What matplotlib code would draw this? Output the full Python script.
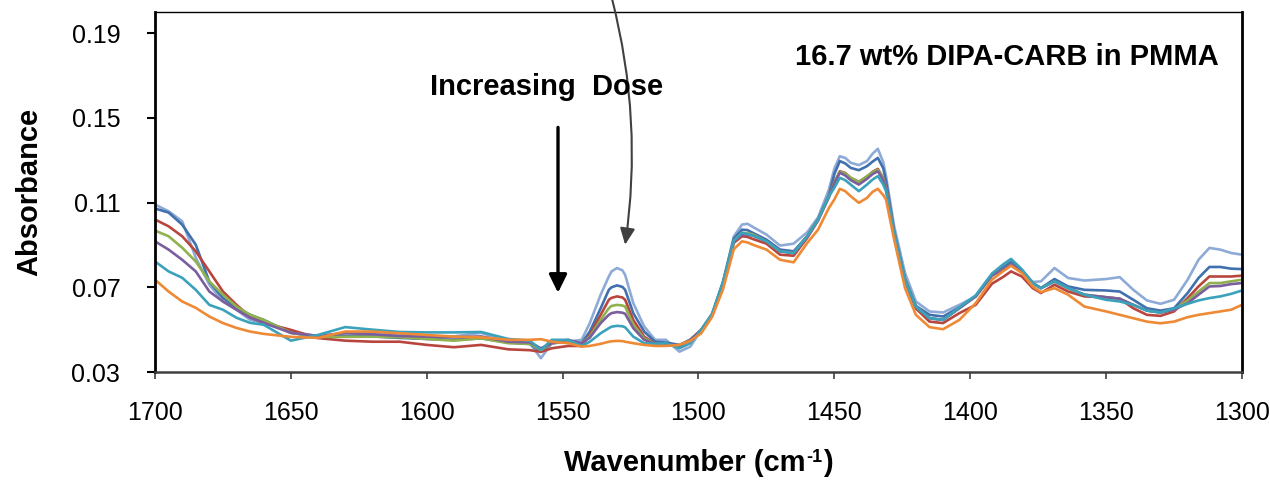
import matplotlib
matplotlib.use("Agg")
import matplotlib.pyplot as plt

plt.rcParams['font.family'] = ['Liberation Sans', 'DejaVu Sans']

wavenumber = [1700, 1695, 1690, 1685, 1680, 1675, 1670, 1665, 1660,
              1650, 1640, 1630, 1620, 1610, 1600, 1590, 1580, 1570,
              1562, 1558, 1554, 1548, 1543, 1540, 1536, 1533, 1532, 1530, 1528, 1527,
              1524, 1520, 1516, 1512, 1507, 1503, 1499, 1495, 1491, 1487,
              1484, 1482, 1480, 1475, 1470, 1465, 1460, 1456, 1452, 1450, 1448, 1446, 1444,
              1441, 1438, 1436, 1434, 1432, 1431, 1428, 1424, 1420, 1415, 1410, 1404,
              1398, 1392, 1388, 1385, 1381, 1377, 1374, 1369, 1364, 1358,
              1350, 1345, 1340, 1335, 1330, 1325, 1320, 1316, 1312, 1308,
              1304, 1300]

dose_light_blue = [.1091, .1059, .1012, .0840, .0712, .0633, .0594, .0546, .0532,
                   .0489, .0470, .0485, .0485, .0475, .0470, .0468, .0485, .0443,
                   .0435, .0365, .0436, .0443, .0452, .0531, .0665, .0751, .0775, .0791, .0780, .0759,
                   .0625, .0515, .0452, .0452, .0396, .0420, .0499, .0575, .0725, .0940,
                   .0996, .1000, .0985, .0949, .0897, .0906, .0960, .1030, .1162, .1260, .1319, .1311, .1288,
                   .1277, .1296, .1330, .1354, .1290, .1225, .0988, .0767, .0633, .0586, .0581, .0617,
                   .0657, .0756, .0800, .0827, .0779, .0725, .0728, .0791, .0744, .0732,
                   .0739, .0748, .0688, .0638, .0622, .0641, .0736, .0830, .0886, .0878,
                   .0862, .0854]

dose_blue = [.1072, .1053, .0996, .0901, .0726, .0650, .0603, .0570, .0546,
             .0485, .0466, .0470, .0468, .0461, .0456, .0452, .0459, .0439,
             .0432, .0396, .0436, .0443, .0436, .0491, .0601, .0688, .0700, .0709, .0702, .0688,
             .0578, .0491, .0443, .0439, .0428, .0452, .0499, .0570, .0722, .0930,
             .0972, .0970, .0957, .0925, .0878, .0870, .0941, .1020, .1135, .1235, .1296, .1285, .1264,
             .1253, .1272, .1293, .1311, .1262, .1201, .0965, .0740, .0612, .0570, .0562, .0605,
             .0657, .0756, .0791, .0818, .0779, .0720, .0696, .0739, .0704, .0688,
             .0685, .0680, .0641, .0601, .0590, .0601, .0673, .0744, .0796, .0796,
             .0788, .0786]

dose_red = [.1020, .0988, .0941, .0870, .0775, .0680, .0617, .0562, .0532,
            .0499, .0460, .0448, .0443, .0443, .0428, .0417, .0428, .0407,
            .0403, .0395, .0412, .0423, .0423, .0475, .0570, .0641, .0650, .0657, .0652, .0641,
            .0546, .0467, .0433, .0428, .0423, .0452, .0495, .0565, .0715, .0910,
            .0941, .0938, .0928, .0906, .0854, .0849, .0933, .1015, .1125, .1195, .1248, .1240, .1217,
            .1198, .1222, .1245, .1259, .1215, .1170, .0950, .0730, .0600, .0538, .0531, .0578,
            .0617, .0717, .0748, .0775, .0751, .0696, .0673, .0712, .0680, .0657,
            .0653, .0646, .0601, .0570, .0565, .0586, .0649, .0704, .0751, .0751,
            .0751, .0755]

dose_green = [.0968, .0941, .0887, .0822, .0728, .0665, .0609, .0570, .0546,
              .0485, .0466, .0466, .0467, .0464, .0456, .0448, .0459, .0436,
              .0433, .0404, .0436, .0443, .0436, .0467, .0546, .0601, .0612, .0617, .0614, .0609,
              .0523, .0459, .0433, .0428, .0423, .0452, .0499, .0570, .0720, .0920,
              .0957, .0955, .0950, .0917, .0870, .0862, .0941, .1020, .1130, .1195, .1245, .1238, .1217,
              .1198, .1225, .1243, .1255, .1213, .1170, .0957, .0736, .0609, .0554, .0546, .0601,
              .0657, .0756, .0783, .0807, .0779, .0720, .0696, .0728, .0696, .0665,
              .0653, .0646, .0617, .0590, .0581, .0594, .0638, .0680, .0720, .0720,
              .0728, .0736]

dose_purple = [.0917, .0878, .0830, .0775, .0680, .0633, .0594, .0556, .0532,
               .0485, .0470, .0483, .0478, .0470, .0467, .0464, .0468, .0443,
               .0440, .0412, .0436, .0452, .0436, .0462, .0531, .0570, .0578, .0583, .0580, .0575,
               .0507, .0452, .0433, .0433, .0423, .0452, .0499, .0570, .0720, .0920,
               .0949, .0948, .0944, .0917, .0870, .0862, .0941, .1020, .1130, .1190, .1241, .1228, .1206,
               .1185, .1212, .1234, .1248, .1205, .1165, .0957, .0736, .0609, .0554, .0546, .0601,
               .0657, .0756, .0783, .0807, .0779, .0720, .0696, .0728, .0696, .0665,
               .0653, .0646, .0617, .0590, .0581, .0594, .0625, .0665, .0704, .0706,
               .0715, .0720]

dose_teal = [.0822, .0775, .0745, .0688, .0617, .0594, .0556, .0532, .0523,
             .0448, .0475, .0512, .0500, .0489, .0487, .0487, .0489, .0456,
             .0448, .0404, .0452, .0452, .0423, .0443, .0483, .0507, .0514, .0518, .0516, .0511,
             .0467, .0436, .0433, .0436, .0412, .0436, .0499, .0575, .0725, .0920,
             .0957, .0952, .0944, .0917, .0870, .0862, .0941, .1020, .1130, .1170, .1217, .1206, .1185,
             .1154, .1185, .1208, .1225, .1185, .1154, .0957, .0736, .0609, .0554, .0546, .0605,
             .0662, .0765, .0807, .0834, .0785, .0720, .0696, .0728, .0696, .0665,
             .0641, .0633, .0617, .0590, .0581, .0601, .0622, .0638, .0649, .0657,
             .0669, .0685]

dose_orange = [.0736, .0680, .0633, .0603, .0562, .0531, .0508, .0491, .0480,
               .0466, .0461, .0491, .0491, .0483, .0475, .0467, .0464, .0452,
               .0452, .0455, .0443, .0436, .0420, .0423, .0433, .0443, .0445, .0447, .0446, .0443,
               .0436, .0428, .0423, .0423, .0428, .0447, .0483, .0560, .0690, .0880,
               .0917, .0912, .0901, .0878, .0830, .0818, .0909, .0972, .1075, .1115, .1165, .1154, .1130,
               .1099, .1122, .1150, .1165, .1135, .1114, .0925, .0696, .0570, .0512, .0502, .0546,
               .0625, .0736, .0775, .0802, .0767, .0704, .0677, .0696, .0665, .0609,
               .0586, .0570, .0554, .0538, .0530, .0538, .0559, .0570, .0578, .0586,
               .0594, .0617]

series = [dose_light_blue, dose_blue, dose_red, dose_green, dose_purple, dose_teal, dose_orange]
colors = ['#8EAAD6', '#4170AE', '#B8463F', '#8FB14E', '#7B5E9E', '#3BA2BC', '#EE8A35']

x_ticks = [1700, 1650, 1600, 1550, 1500, 1450, 1400, 1350, 1300]
y_ticks = [0.03, 0.07, 0.11, 0.15, 0.19]

W, H = 1270, 482
fig = plt.figure(figsize=(W / 100, H / 100), dpi=100)
ax = fig.add_axes([155 / W, 1 - 372 / H, (1242 - 155) / W, (372 - 12) / H])

for ys, c in zip(series, colors):
    ax.plot(wavenumber, ys, color=c, lw=1.9, solid_joinstyle='round', solid_capstyle='round')

ax.set_xlim(1700, 1300)
ax.set_ylim(0.03, 0.20)
ax.set_xticks(x_ticks)
ax.set_xticklabels([str(t) for t in x_ticks])
ax.set_yticks(y_ticks)
ax.set_yticklabels([f"{t:.2f}" for t in y_ticks])

ax.tick_params(axis='y', direction='out', length=6, width=1.5, labelsize=18, pad=19, color='black')
ax.tick_params(axis='x', direction='out', length=5, width=1.2, labelsize=18, pad=16, color='#404040')

ax.spines['left'].set_linewidth(2.0)
ax.spines['left'].set_color('black')
ax.spines['right'].set_linewidth(2.0)
ax.spines['right'].set_color('black')
ax.spines['top'].set_linewidth(1.0)
ax.spines['top'].set_color('black')
ax.spines['bottom'].set_linewidth(1.8)
ax.spines['bottom'].set_color('#404040')

ax.set_ylabel('Absorbance', fontsize=21, fontweight='bold', labelpad=20)

# x-axis label with a small hyphen superscript, composed of three pieces
renderer = fig.canvas.get_renderer()
t1 = fig.text(0, 0, 'Wavenumber (cm', fontsize=21, fontweight='bold', ha='left', va='baseline')
t2 = fig.text(0, 0, '-1', fontsize=13, fontweight='bold', ha='left', va='baseline')
t3 = fig.text(0, 0, ')', fontsize=21, fontweight='bold', ha='left', va='baseline')
w1 = t1.get_window_extent(renderer).width
w2 = t2.get_window_extent(renderer).width
w3 = t3.get_window_extent(renderer).width
total = w1 + w2 + 1 + w3
x0 = 698.5 - total / 2
base = 471
t1.set_position((x0 / W, 1 - base / H))
t2.set_position(((x0 + w1) / W, 1 - (base - 9) / H))
t3.set_position(((x0 + w1 + w2 + 1) / W, 1 - base / H))

fig.text(1007 / W, 1 - 57 / H, '16.7 wt% DIPA-CARB in PMMA', fontsize=21, fontweight='bold',
         ha='center', va='center')
fig.text(547 / W, 1 - 87 / H, 'Increasing  Dose', fontsize=21, fontweight='bold',
         ha='center', va='center')

ax.annotate('', xy=(1551.7, 0.0674), xytext=(1551.7, 0.1455),
            arrowprops=dict(arrowstyle='-|>,head_length=0.55,head_width=0.27', mutation_scale=20,
                            color='black', lw=2.4, shrinkA=0, shrinkB=0))
ax.annotate('', xy=(1527.0, 0.0901), xytext=(1531.8, 0.2061),
            arrowprops=dict(arrowstyle='-|>,head_length=0.55,head_width=0.25', mutation_scale=18,
                            connectionstyle='arc3,rad=-0.1', color='#404040', lw=1.5,
                            shrinkA=0, shrinkB=0),
            annotation_clip=False)

fig.savefig('out.png', dpi=100)
